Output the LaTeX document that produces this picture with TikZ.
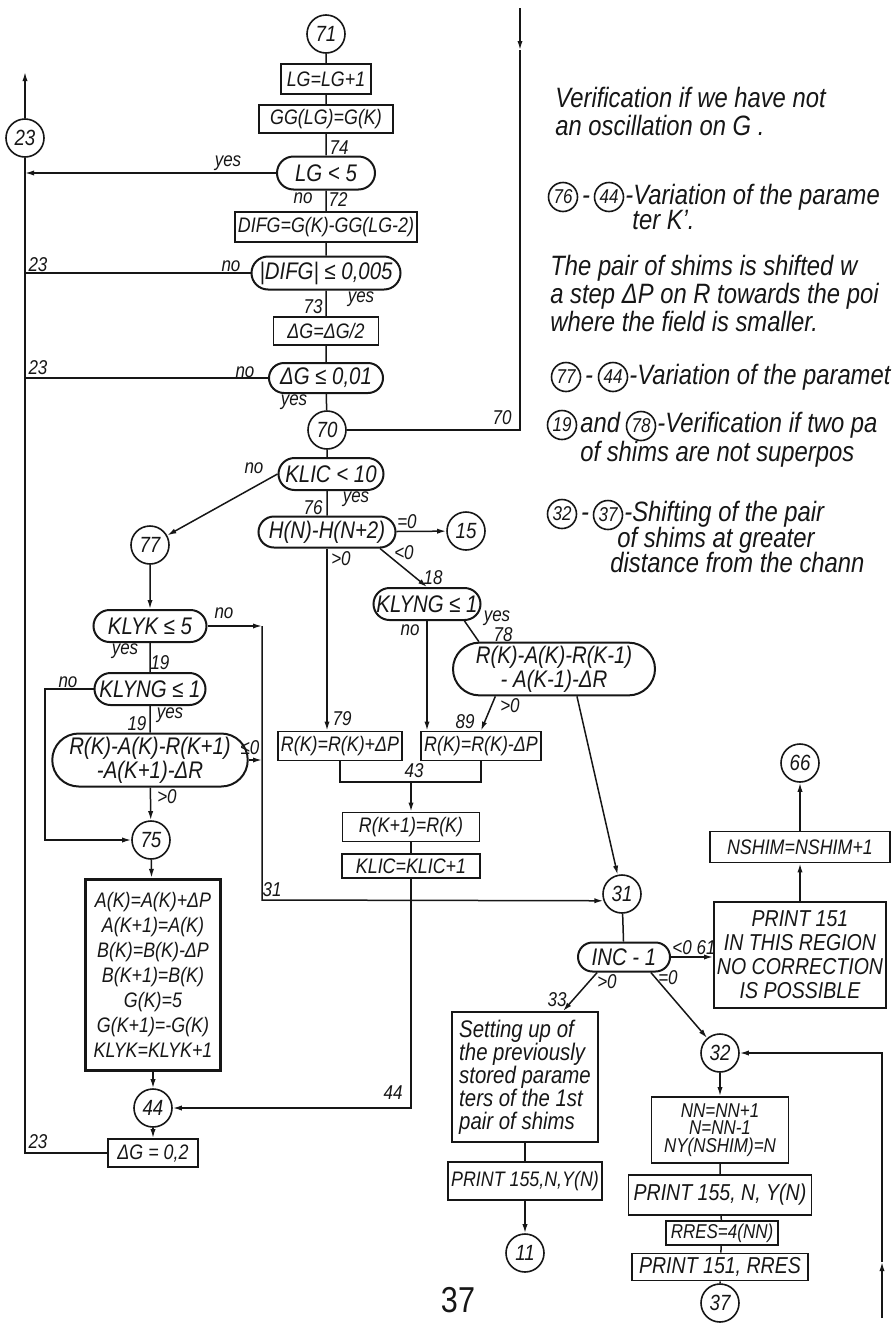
\documentclass[tikz,border=0pt]{standalone}
\usepackage{fontspec}
\setmainfont{Liberation Sans}[FakeStretch=0.85]
\usetikzlibrary{arrows.meta,positioning,shapes.misc}
\definecolor{ink}{HTML}{161616}
\tikzset{
  box/.style={draw=ink,line width=.9pt,inner sep=1.5pt,align=center,text=ink,font=\itshape\fontsize{10.5}{12.5}\selectfont},
  boxk/.style={box,line width=1.6pt},
  test/.style={box,rounded rectangle,line width=1pt,font=\itshape\fontsize{12}{11}\selectfont},
  con/.style={circle,draw=ink,line width=.8pt,minimum size=19pt,inner sep=0pt,text=ink,font=\itshape\fontsize{11}{12}\selectfont},
  conm/.style={con,minimum size=14.5pt,font=\itshape\fontsize{10}{10}\selectfont},
  lbl/.style={inner sep=0pt,text=ink,font=\itshape\fontsize{10}{10}\selectfont},
  note/.style={inner sep=0pt,anchor=west,align=left,text=ink,font=\itshape\fontsize{14}{14}\selectfont},
  notel/.style={note,text height=10pt,text depth=3pt},
  ar/.style={-{Latex[length=4.5pt,width=2.6pt]},draw=ink,line width=.75pt},
  ln/.style={draw=ink,line width=.75pt},
}
\begin{document}
\begin{tikzpicture}[x=.5pt,y=-.5pt]
\useasboundingbox (0,0) rectangle (892,1323);

\node[con] (c71) at (326,34) {71};
\node[box,minimum width=45pt,minimum height=15pt] (b1) at (326,79) {LG=LG+1};
\node[box,minimum width=67pt,minimum height=14pt] (b2) at (326,119) {GG(LG)=G(K)};
\node[test,minimum width=52pt,minimum height=16.5pt] (d1) at (326,173) {LG < 5};
\node[box,minimum width=89pt,minimum height=15pt] (b3) at (326,227) {DIFG=G(K)-GG(LG-2)};
\node[test,minimum width=77.5pt,minimum height=16.5pt] (d2) at (326,273) {|DIFG| ≤ 0,005};
\node[box,minimum width=52.5pt,minimum height=14pt] (b4) at (326,331) {ΔG=ΔG/2};
\node[test,minimum width=60pt,minimum height=15pt] (d3) at (326,378) {ΔG ≤ 0,01};
\node[con] (c70) at (327,430) {70};
\node[con] (c23) at (25,138) {23};
\node[test,minimum width=55.5pt,minimum height=16pt] (d4) at (331,474) {KLIC < 10};
\node[test,minimum width=71.5pt,minimum height=15.5pt] (d5) at (327,532) {H(N)-H(N+2)};
\node[con] (c15) at (466,531) {15};
\node[test,minimum width=56.5pt,minimum height=16pt] (d6) at (427,604) {KLYNG ≤ 1};
\node[test,minimum width=104pt,minimum height=26pt] (d7) at (554,669) {R(K)-A(K)-R(K-1)\\- A(K-1)-ΔR};
\node[box,minimum width=56.5pt,minimum height=14.5pt] (b5) at (340,746) {R(K)=R(K)+ΔP};
\node[box,minimum width=57pt,minimum height=14.5pt] (b6) at (481,746) {R(K)=R(K)-ΔP};
\node[box,minimum width=68.5pt,minimum height=14.5pt] (b7) at (411,827) {R(K+1)=R(K)};
\node[box,minimum width=69pt,minimum height=12pt] (b8) at (411,866) {KLIC=KLIC+1};
\node[con] (c77) at (150,545) {77};
\node[test,minimum width=59.5pt,minimum height=16pt] (d8) at (150,626) {KLYK ≤ 5};
\node[test,minimum width=58.5pt,minimum height=16pt] (d9) at (150,689) {KLYNG ≤ 1};
\node[test,minimum width=88.5pt,minimum height=26.5pt] (d10) at (150,760) {R(K)-A(K)-R(K+1)\\-A(K+1)-ΔR};
\node[con] (c75) at (151,840) {75};
\node[boxk,minimum width=67.5pt,minimum height=95.5pt] (b9) at (153,975) {A(K)=A(K)+ΔP\\A(K+1)=A(K)\\B(K)=B(K)-ΔP\\B(K+1)=B(K)\\G(K)=5\\G(K+1)=-G(K)\\KLYK=KLYK+1};
\node[con] (c44) at (153,1108) {44};
\node[box,minimum width=45pt,minimum height=14pt] (b10) at (153,1153) {ΔG = 0,2};
\node[con] (c31) at (622,894) {31};
\node[test,minimum width=49pt,minimum height=14.5pt] (d11) at (624,957) {INC - 1};
\node[box,minimum width=80pt,minimum height=53pt,font=\itshape\fontsize{11.5}{12}\selectfont] (b11) at (800,955) {PRINT 151\\IN THIS REGION\\NO CORRECTION\\IS POSSIBLE};
\node[box,minimum width=90pt,minimum height=15.5pt] (b12) at (800,847) {NSHIM=NSHIM+1};
\node[con] (c66) at (800,763) {66};
\node[box,align=left,minimum width=73pt,minimum height=65pt,font=\itshape\fontsize{12}{11.5}\selectfont] (b13) at (525,1077) {Setting up of\\the previously\\stored parame\\ters of the 1st\\pair of shims};
\node[box,minimum width=73pt,minimum height=19pt] (b14) at (525,1181) {PRINT 155,N,Y(N)};
\node[con] (c11) at (525,1253) {11};
\node[con] (c32) at (720,1053) {32};
\node[box,minimum width=68.5pt,minimum height=33pt,font=\itshape\fontsize{10}{8.8}\selectfont] (b15) at (720,1130) {NN=NN+1\\N=NN-1\\NY(NSHIM)=N};
\node[box,minimum width=91.5pt,minimum height=20pt,font=\itshape\fontsize{11.5}{12}\selectfont] (b16) at (720,1195) {PRINT 155, N, Y(N)};
\node[box,minimum width=56pt,minimum height=10pt,font=\itshape\fontsize{10}{10}\selectfont] (b17) at (722,1233) {RRES=4(NN)};
\node[box,minimum width=88pt,minimum height=13.5pt,font=\itshape\fontsize{11.5}{12}\selectfont] (b18) at (720,1267) {PRINT 151, RRES};
\node[con] (c37) at (720,1303) {37};

\coordinate (up23) at (25,72);
\coordinate (top70) at (520,8);
\coordinate (mid70) at (520,50);
\coordinate (j43) at (411,782);
\coordinate (k31) at (262,900);
\coordinate (k75) at (45,840);
\coordinate (bot32) at (882,1318);
\coordinate (mid32) at (882,1262);

\draw[ln] (c71) -- (b1) -- (b2) -- (d1) -- (b3) -- (d2) -- (b4) -- (d3) -- (c70) -- (c70 |- d4.north);
\draw[ln] (c70 |- d4.south) -- (d5);
\draw[ar] (c23) -- (up23);
\draw[ar] (d1) -- (d1 -| c23);
\draw[ln] (d2) -- (d2 -| c23);
\draw[ln] (d3) -- (d3 -| c23);
\draw[ln] (b10) -- (b10 -| c23) -- (c23);
\draw[ar] (top70) -- (mid70);
\draw[ln] (mid70) |- (c70);
\draw[ar] (d4.west) -- (c77);
\draw[ar] (d5) -- (c15);
\draw[ar] (d5.south east) -- (d6.north);
\draw[ar] (d5.south) -- (d5.south |- b5.north);
\draw[ar] (d6.south) -- (d6.south |- b6.north);
\draw[ln] (d6.south east) -- (d7.160);
\draw[ar] (d7.-155) -- (b6.north);
\draw[ar] (d7.-50) -- (c31);
\draw[ln] (b5.south) |- (j43) -| (b6.south);
\draw[ar] (j43) -- (b7);
\draw[ln] (b7) -- (b8);
\draw[ar] (b8.south) |- (c44);
\draw[ar] (c77) -- (d8);
\draw[ar] (d8.east) -- (d8.east -| k31);
\draw[ar] (d8.east -| k31) -- (k31) -- (c31.200);
\draw[ln] (d8) -- (d9);
\draw[ar] (d9.west) -| (k75) -- (c75);
\draw[ln] (d9) -- (d10);
\draw[ar] (d10.east) -- (d10.east -| k31);
\draw[ar] (d10) -- (c75);
\draw[ar] (c75) -- (b9);
\draw[ar] (b9) -- (c44);
\draw[ar] (c44) -- (b10);
\draw[ln] (c31) -- (d11);
\draw[ar] (d11.east) -- (d11.east -| b11.west);
\draw[ar] (b11) -- (b12);
\draw[ar] (b12) -- (c66);
\draw[ar] (d11.-150) -- (b13.60);
\draw[ar] (d11.-30) -- (c32);
\draw[ln] (b13) -- (b14);
\draw[ar] (b14) -- (c11);
\draw[ar] (c32) -- (b15);
\draw[ln] (b15) -- (b16) -- (b17) -- (b18) -- (c37);
\draw[ar] (bot32) -- (mid32);
\draw[ar] (mid32) |- (c32);

\node[lbl] (yes1) at (228,163) {yes};
\node[lbl] (l74) at (339,148) {74};
\node[lbl] (no1) at (303,198) {no};
\node[lbl] (l72) at (338,200) {72};
\node[lbl] (l23a) at (38,265) {23};
\node[lbl] (no2) at (231,266) {no};
\node[lbl] (yes2) at (361,299) {yes};
\node[lbl] (l73) at (313,307) {73};
\node[lbl] (l23b) at (38,368) {23};
\node[lbl] (no3) at (245,372) {no};
\node[lbl] (yes3) at (294,402) {yes};
\node[lbl] (l70) at (502,418) {70};
\node[lbl] (no4) at (254,468) {no};
\node[lbl] (yes4) at (356,499) {yes};
\node[lbl] (l76) at (313,508) {76};
\node[lbl] (eq0a) at (407,522) {=0};
\node[lbl] (lt0a) at (404,553) {<0};
\node[lbl] (gt0a) at (341,559) {>0};
\node[lbl] (l18) at (433,578) {18};
\node[lbl] (no5) at (410,630) {no};
\node[lbl] (yes5) at (497,618) {yes};
\node[lbl] (l78) at (503,635) {78};
\node[lbl] (gt0b) at (510,706) {>0};
\node[lbl] (l89) at (465,722) {89};
\node[lbl] (l79) at (342,719) {79};
\node[lbl] (l43) at (414,771) {43};
\node[lbl] (no6) at (224,613) {no};
\node[lbl] (yes6) at (125,651) {yes};
\node[lbl] (l19a) at (160,663) {19};
\node[lbl] (no7) at (68,682) {no};
\node[lbl] (yes7) at (170,715) {yes};
\node[lbl] (l19b) at (137,724) {19};
\node[lbl] (le0) at (250,748) {≤0};
\node[lbl] (gt0c) at (167,797) {>0};
\node[lbl] (l31) at (272,890) {31};
\node[lbl] (l44) at (393,1093) {44};
\node[lbl] (l23c) at (38,1142) {23};
\node[lbl] (lt61) at (694,948) {<0 61};
\node[lbl] (gt0d) at (607,982) {>0};
\node[lbl] (eq0b) at (668,978) {=0};
\node[lbl] (l33) at (557,1000) {33};

\node[note] (t1) at (555,111) {Verification if we have not\\an oscillation on G .};
\node[conm] (n76) at (563,197) {76};
\node[notel,anchor=center] (h76) at (586,197) {-};
\node[conm] (n44a) at (609,197) {44};
\node[notel] (t76) at (625,197) {-Variation of the parame};
\node[notel] (t76b) at (632,222) {ter K'.};
\node[note] (t3) at (550,293) {The pair of shims is shifted w\\a step ΔP on R towards the poi\\where the field is smaller.};
\node[conm] (n77) at (566,377) {77};
\node[notel,anchor=center] (h77) at (589,377) {-};
\node[conm] (n44b) at (613,377) {44};
\node[notel] (t77) at (629,377) {-Variation of the paramet};
\node[conm] (n19) at (562,425) {19};
\node[notel] (t19) at (580,425) {and};
\node[conm] (n78) at (641,426) {78};
\node[notel] (t78) at (657,425) {-Verification if two pa};
\node[notel] (t78b) at (580,454) {of shims are not superpos};
\node[conm] (n32) at (562,514) {32};
\node[notel,anchor=center] (h32) at (585,514) {-};
\node[conm] (n37) at (608,515) {37};
\node[notel] (t32) at (624,514) {-Shifting of the pair};
\node[notel] (t32b) at (617,540) {of shims at greater};
\node[notel] (t32c) at (610,565) {distance from the chann};
\node[lbl,font=\fontsize{18}{18}\selectfont] (pg) at (458,1300) {37};
\end{tikzpicture}
\end{document}
